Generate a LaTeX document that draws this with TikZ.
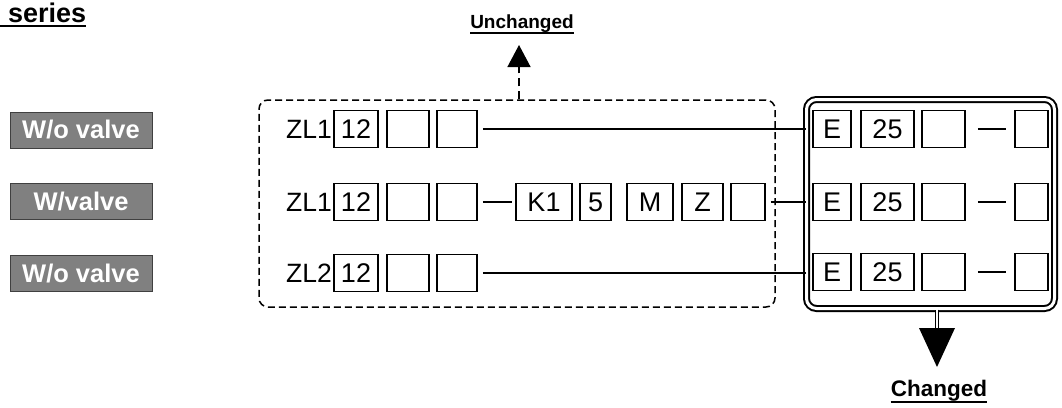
\documentclass[tikz,border=0pt]{standalone}
\usepackage{fontspec}
\setmainfont{Liberation Sans}
\usetikzlibrary{arrows.meta}
\begin{document}
\begin{tikzpicture}[x=1pt,y=-1pt,
  cell/.style={draw, line width=1.6pt, minimum height=37pt, inner sep=0pt,
    font=\fontsize{27}{27}\selectfont},
  tag/.style={fill=black!50, draw=black!75, line width=0.8pt, minimum width=142pt,
    minimum height=36pt, inner sep=0pt, text=white, font=\fontsize{25.5}{25.5}\selectfont\bfseries},
  zl/.style={anchor=east, inner sep=0pt, font=\fontsize{26.5}{26.5}\selectfont},
  conn/.style={line width=1.5pt},
  ul/.style={line width=1.6pt},
  title/.style={inner sep=0pt, font=\bfseries}
]
\useasboundingbox (0,0) rectangle (1062,407);

% title
\node[title, anchor=base west, font=\fontsize{27}{27}\selectfont\bfseries] (series) at (0,22) {\hspace*{8pt}series};
\draw[ul] ([yshift=-4pt]series.base west) -- ([yshift=-4pt]series.base east);

% left tags
\node[tag] (t1) at (81,130) {W/o valve};
\node[tag] (t2) at (81,201.5) {W/valve};
\node[tag] (t3) at (81,273.5) {W/o valve};

% containers
\node[draw, line width=1.5pt, dash pattern=on 7pt off 4pt, rounded corners=9pt,
  minimum width=516pt, minimum height=207pt, inner sep=0pt] (ubox) at (517,203.5) {};
\node[draw, line width=2pt, double, double distance=3pt, rounded corners=10pt,
  minimum width=248pt, minimum height=209pt, inner sep=0pt] (cbox) at (930.5,204) {};

% row 1
\node[zl] (z1) at (332,129) {ZL1};
\node[cell, minimum width=44pt] (a1) at (356,129) {12};
\node[cell, minimum width=42pt] (b1) at (408,129) {};
\node[cell, minimum width=40pt] (c1) at (457,129) {};
% row 2
\node[zl] (z2) at (332,202) {ZL1};
\node[cell, minimum width=44pt] (a2) at (356,202) {12};
\node[cell, minimum width=42pt] (b2) at (408,202) {};
\node[cell, minimum width=40pt] (c2) at (457,202) {};
\node[cell, minimum width=56pt] (k2) at (544,202) {K1};
\node[cell, minimum width=31pt] (f2) at (595.5,202) {5};
\node[cell, minimum width=46pt] (m2) at (650,202) {M};
\node[cell, minimum width=41pt] (zz2) at (702.5,202) {Z};
\node[cell, minimum width=34pt] (e2) at (748,202) {};
% row 3
\node[zl] (z3) at (332,273) {ZL2};
\node[cell, minimum width=44pt] (a3) at (356,273) {12};
\node[cell, minimum width=42pt] (b3) at (408,273) {};
\node[cell, minimum width=40pt] (c3) at (457,273) {};

% right cells
\foreach \r/\y in {1/129,2/202,3/272}{
  \node[cell, minimum width=38pt] (E\r) at (832,\y) {E};
  \node[cell, minimum width=53pt] (N\r) at (887.5,\y) {25};
  \node[cell, minimum width=43pt] (X\r) at (943.5,\y) {};
  \node[cell, minimum width=33pt] (L\r) at (1031.5,\y) {};
  \draw[conn, shorten <=12pt, shorten >=8pt] (X\r.east) -- (L\r.west);
}

% connectors
\draw[conn, shorten <=5pt] (c1.east) -- (c1.east -| cbox.west);
\draw[conn, shorten <=5pt, shorten >=3pt] (c2.east) -- (k2.west);
\draw[conn, shorten <=5pt] (e2.east) -- (e2.east -| cbox.west);
\draw[conn, shorten <=5pt] (c3.east) -- (c3.east -| cbox.west);

% unchanged arrow
\node[title, anchor=base, font=\fontsize{19}{19}\selectfont\bfseries] (unch) at (522,28) {Unchanged};
\draw[ul] ([yshift=-5pt]unch.base west) -- ([yshift=-5pt]unch.base east);
\coordinate (uptip) at (519,45);
\draw[line width=1.5pt, dash pattern=on 8pt off 5pt,
  -{Triangle[width=23pt,length=22pt]}] (ubox.north -| uptip) -- (uptip);

% changed arrow
\coordinate (dnbase) at (937,328);
\draw[line width=0.9pt, double, double distance=2pt] (cbox.south -| dnbase) -- (dnbase);
\fill (919,328) -- (955,328) -- (937,367) -- cycle;
\node[title, anchor=base, font=\fontsize{22.5}{22.5}\selectfont\bfseries] (chg) at (939,396) {Changed};
\draw[ul] ([yshift=-6pt]chg.base west) -- ([yshift=-6pt]chg.base east);
\end{tikzpicture}
\end{document}
